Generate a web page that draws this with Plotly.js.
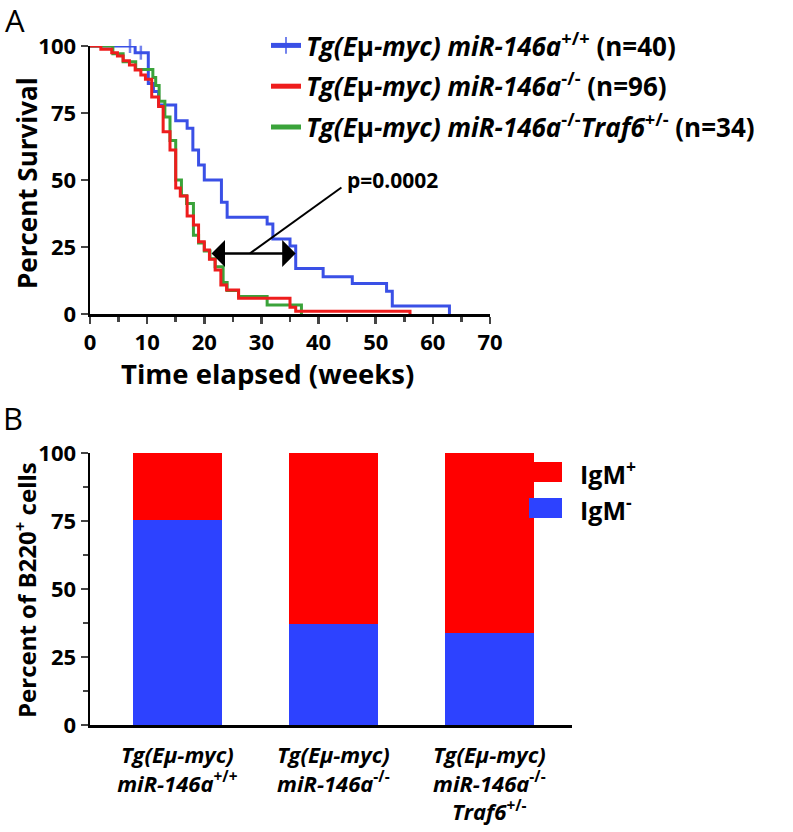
<!DOCTYPE html>
<html>
<head>
<meta charset="utf-8">
<script src="https://cdn.plot.ly/plotly-3.0.1.min.js"></script>
<style>html,body{margin:0;padding:0;background:#fff;}#chart{width:793px;height:832px;}</style>
</head>
<body>
<div id="chart"></div>
<script>
// ---------- Panel A: Kaplan-Meier survival (weeks, percent survival) ----------
var blueWeeks = [0, 7, 7.9, 8.9, 10.2, 11.1, 12, 15, 17, 18, 19, 20, 23, 24, 31, 32, 35, 36, 40.8, 45.9, 51.9, 52.9, 62.9];
var blueSurv  = [100, 100, 97.5, 97.5, 86, 83, 78, 72.1, 69.3, 61.2, 55.6, 50, 41.7, 36.1, 33.6, 28, 25.4, 17, 13.9, 11.4, 8.5, 3, 0];
var blueCensored = [0, 1, 0, 1, 0, 0, 0, 0, 0, 0, 0, 0, 0, 0, 0, 0, 0, 0, 0, 0, 0, 0, 0];

var redWeeks = [0, 1.9, 3.8, 4.8, 5.8, 6.9, 7.9, 8.9, 9.7, 10.8, 12, 12.8, 14, 15, 15.8, 17, 18.1, 19, 20, 20.9, 21.9, 22.9, 23.9, 26, 35, 36, 56];
var redSurv  = [100, 98.8, 97.5, 96.3, 94.5, 92.9, 91, 89.2, 87.6, 81, 77.4, 68, 61.2, 47, 44, 36.6, 33.2, 27, 23.9, 20.4, 16.4, 10.8, 9, 5.9, 2.5, 1.0, 0];

var greenWeeks = [0, 4, 5.8, 8, 11, 11.5, 12.1, 13.1, 14, 15, 16, 16.9, 18.1, 19, 20, 21, 21.9, 23.3, 24, 26, 31, 37];
var greenSurv  = [100, 97.1, 94.1, 91.2, 88.2, 85.3, 79.4, 73.5, 64.7, 50, 44.1, 41.2, 29.4, 26.5, 23.5, 20.6, 17.6, 11.8, 8.8, 6.5, 3.4, 0];

var seriesNames = [
  '<b><i>Tg(E</i>μ<i>-myc) miR-146a</i><sup>+/+</sup> (n=40)</b>',
  '<b><i>Tg(E</i>μ<i>-myc) miR-146a</i><sup>-/-</sup> (n=96)</b>',
  '<b><i>Tg(E</i>μ<i>-myc) miR-146a</i><sup>-/-</sup><i>Traf6</i><sup>+/-</sup> (n=34)</b>'
];

// median comparison annotation (weeks, percent)
var arrowFrom = [21, 22.6];
var arrowTo = [36, 22.6];
var pLabel = 'p=0.0002';

// ---------- Panel B: stacked bars ----------
var groups = ['g1', 'g2', 'g3'];
var groupLabels = [
  '<b><i>Tg(Eμ-myc)</i><br><i>miR-146a</i><sup>+/+</sup></b>',
  '<b><i>Tg(Eμ-myc)</i><br><i>miR-146a</i><sup>-/-</sup></b>',
  '<b><i>Tg(Eμ-myc)</i><br><i>miR-146a</i><sup>-/-</sup><br><i>Traf6</i><sup>+/-</sup></b>'
];
var igmNeg = [75.5, 37, 34];
var igmPos = [24.5, 63, 66];

var cBlue = '#3a50e6', cRed = '#ee1d1d', cGreen = '#3aa33a';
var barRed = '#ff0000', barBlue = '#2d42ff';
var FONT = '"Open Sans", Lato, sans-serif';

function sizes(arr){ return arr.map(function(c){ return c ? 10 : 0; }); }
function zeros(n){ var a=[]; for(var i=0;i<n;i++) a.push(0); return a; }

var blueTrace = {x: blueWeeks, y: blueSurv, name: seriesNames[0], type:'scatter', mode:'lines+markers',
   line:{shape:'hv', color:cBlue, width:3}, cliponaxis:false, legendrank:1, legendgroup:'a',
   marker:{symbol:'line-ns', size:sizes(blueCensored), color:cBlue, line:{width:2.5, color:cBlue}},
   xaxis:'x', yaxis:'y', hoverinfo:'skip'};
var redTrace = {x: redWeeks, y: redSurv, name: seriesNames[1], type:'scatter', mode:'lines+markers',
   line:{shape:'hv', color:cRed, width:3}, cliponaxis:false, legendrank:2, legendgroup:'b',
   marker:{symbol:'line-ns', size:zeros(redWeeks.length), color:cRed, line:{width:2.5, color:cRed}},
   xaxis:'x', yaxis:'y', hoverinfo:'skip'};
var greenTrace = {x: greenWeeks, y: greenSurv, name: seriesNames[2], type:'scatter', mode:'lines+markers',
   line:{shape:'hv', color:cGreen, width:3}, cliponaxis:false, legendrank:3, legendgroup:'c',
   marker:{symbol:'line-ns', size:zeros(greenWeeks.length), color:cGreen, line:{width:2.5, color:cGreen}},
   xaxis:'x', yaxis:'y', hoverinfo:'skip'};
var negTrace = {x: groups, y: igmNeg, name:'IgM<sup>-</sup>', type:'bar', marker:{color:barBlue},
   width:0.57, xaxis:'x2', yaxis:'y2', showlegend:false};
var posTrace = {x: groups, y: igmPos, name:'IgM<sup>+</sup>', type:'bar', marker:{color:barRed},
   width:0.57, xaxis:'x2', yaxis:'y2', showlegend:false};

var traces = [blueTrace, greenTrace, redTrace, negTrace, posTrace];

var W = 793, H = 832;
function px(x){ return x / W; }
function py(y){ return 1 - y / H; }

var tickFont = {family: FONT, size: 22, color:'#000', weight:'bold'};

var layout = {
  width: W, height: H,
  margin: {l:0, r:0, t:0, b:0},
  paper_bgcolor:'#fff', plot_bgcolor:'#fff',
  barmode:'stack',
  showlegend:true,
  legend: {x: px(266), y: py(22), xanchor:'left', yanchor:'top',
           font:{family:FONT, size:26, color:'#000', weight:'bold'},
           tracegroupgap: 4, itemwidth:30, itemsizing:'constant', bgcolor:'rgba(0,0,0,0)',
           traceorder:'grouped'},
  xaxis: {domain:[px(90), px(490)], range:[0,70], anchor:'y',
          tickvals:[0,10,20,30,40,50,60,70], ticks:'outside', ticklen:7, tickwidth:2.5,
          showline:true, linewidth:2.5, linecolor:'#000', showgrid:false, zeroline:false,
          tickfont: tickFont,
          minor:{dtick:5, ticks:'outside', ticklen:5, tickwidth:2.5, tick0:0}},
  yaxis: {domain:[py(314), py(46)], range:[0,100], anchor:'x',
          tickvals:[0,25,50,75,100], ticks:'outside', ticklen:7, tickwidth:2.5,
          showline:true, linewidth:2.5, linecolor:'#000', showgrid:false, zeroline:false,
          tickfont: tickFont},
  xaxis2: {domain:[px(90), px(572)], range:[-0.56, 2.53], anchor:'y2', type:'category',
           tickvals: groups, ticktext: groupLabels, ticks:'', ticklabelstandoff: 9,
           showline:true, linewidth:2.5, linecolor:'#000', showgrid:false, zeroline:false,
           tickfont:{family:FONT, size:22, color:'#000', weight:'bold'}},
  yaxis2: {domain:[py(725), py(453)], range:[0,100], anchor:'x2',
           tickvals:[0,25,50,75,100], ticks:'outside', ticklen:7, tickwidth:2.5,
           showline:true, linewidth:2.5, linecolor:'#000', showgrid:false, zeroline:false,
           tickfont: tickFont,
           minor:{dtick:12.5, tick0:0, ticks:'outside', ticklen:5, tickwidth:2.5}},
  shapes: [
    {type:'line', xref:'x', yref:'y', x0:28, y0:22.6, x1:44, y1:47.2, line:{color:'#000', width:2}},
    {type:'rect', xref:'paper', yref:'paper', x0:px(529), x1:px(562), y0:py(482), y1:py(462), fillcolor:barRed, line:{width:0}},
    {type:'rect', xref:'paper', yref:'paper', x0:px(529), x1:px(562), y0:py(518), y1:py(498), fillcolor:barBlue, line:{width:0}}
  ],
  annotations: [
    {xref:'x', yref:'y', axref:'x', ayref:'y', x:arrowTo[0], y:arrowTo[1], ax:arrowFrom[0], ay:arrowFrom[1],
     text:'', showarrow:true, arrowhead:1, startarrowhead:1, arrowside:'end+start', arrowwidth:2.5,
     arrowsize:1.8, startarrowsize:1.8, arrowcolor:'#000', standoff:0, startstandoff:0},
    {xref:'x', yref:'y', x:44.6, y:50, text:'<b>' + pLabel + '</b>', showarrow:false, xanchor:'left', yanchor:'middle',
     font:{family:FONT, size:21, color:'#000', weight:'bold'}},
    {xref:'paper', yref:'paper', x:px(267), y:py(373), text:'<b>Time elapsed (weeks)</b>', showarrow:false,
     xanchor:'center', yanchor:'middle', font:{family:FONT, size:27.5, color:'#000', weight:'bold'}},
    {xref:'paper', yref:'paper', x:px(27), y:py(183), text:'<b>Percent Survival</b>', showarrow:false, textangle:-90,
     xanchor:'center', yanchor:'middle', font:{family:FONT, size:26, color:'#000', weight:'bold'}},
    {xref:'paper', yref:'paper', x:px(25), y:py(590), text:'<b>Percent of B220<sup>+</sup> cells</b>', showarrow:false, textangle:-90,
     xanchor:'center', yanchor:'middle', font:{family:FONT, size:24, color:'#000', weight:'bold'}},
    {xref:'paper', yref:'paper', x:px(3), y:py(20), text:'A', showarrow:false, xanchor:'left', yanchor:'middle',
     font:{family:FONT, size:31, color:'#000'}},
    {xref:'paper', yref:'paper', x:px(1), y:py(418), text:'B', showarrow:false, xanchor:'left', yanchor:'middle',
     font:{family:FONT, size:31, color:'#000'}},
    {xref:'paper', yref:'paper', x:px(578), y:py(472), text:'<b>IgM<sup>+</sup></b>', showarrow:false, xanchor:'left', yanchor:'middle',
     font:{family:FONT, size:25, color:'#000', weight:'bold'}},
    {xref:'paper', yref:'paper', x:px(578), y:py(508), text:'<b>IgM<sup>-</sup></b>', showarrow:false, xanchor:'left', yanchor:'middle',
     font:{family:FONT, size:25, color:'#000', weight:'bold'}}
  ]
};

Plotly.newPlot('chart', traces, layout, {displayModeBar:false, staticPlot:true});
</script>
</body>
</html>
